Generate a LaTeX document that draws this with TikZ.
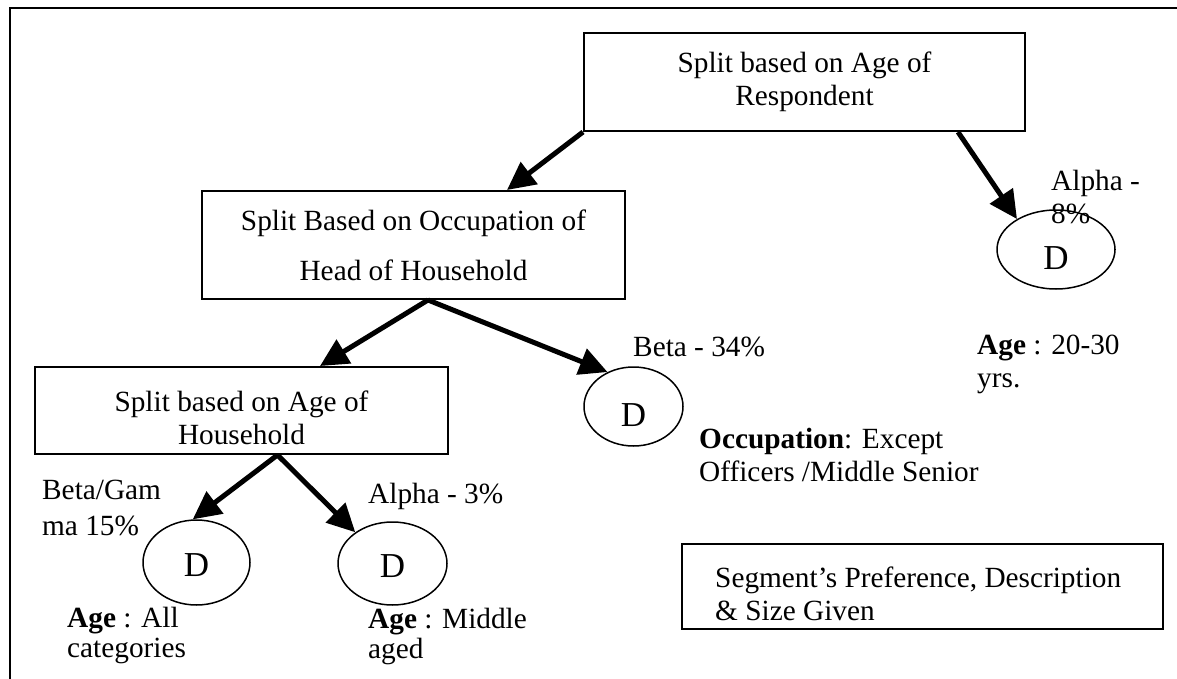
\documentclass[tikz,border=0pt]{standalone}
\usepackage{fontspec}
\setmainfont{Liberation Serif}
\usetikzlibrary{arrows.meta,shapes.geometric,calc}

\begin{document}
\begin{tikzpicture}[x=1pt,y=-1pt,
  every node/.style={font=\fontsize{29.3}{33}\selectfont},
  box/.style={draw,line width=2pt,inner sep=0pt,align=center},
  oval/.style={draw,ellipse,line width=1.5pt,inner sep=0pt,font=\fontsize{35}{35}\selectfont,text depth=0pt,text height=27pt},
  lowd/.style={text height=40pt},
  lbl/.style={inner sep=0pt,anchor=base west,align=left},
  arr/.style={line width=5pt,-{Triangle[length=28pt,width=27pt]}},
  frame/.style={line width=2pt}]
\useasboundingbox (0,0) rectangle (1177,679);
\draw[frame] (1178,8) -- (10,8) -- (10,680);

% boxes
\node[box,minimum width=441pt,minimum height=98pt] (top) at (804.5,82) {Split based on Age of\\Respondent};
\node[box,minimum width=423pt,minimum height=108pt] (occ) at (413.5,245) {Split Based on Occupation of\\[17pt]Head of Household};
\node[box,minimum width=413pt,minimum height=87pt] (hh) at (241.5,410.5) {};
\node[inner sep=0pt,align=center] (hhtext) at (241.5,418) {Split based on Age of\\Household};
\node[box,minimum width=481pt,minimum height=85pt] (seg) at (922.5,586.5) {};
\node[lbl] (segtext) at (715,620) {Segment’s Preference, Description\\\& Size Given};

% ellipses
\node[oval,lowd,minimum width=118pt,minimum height=79pt] (e4) at (1056,249.5) {D};
\node[oval,lowd,minimum width=99pt,minimum height=79pt] (e3) at (633.5,406.5) {D};
\node[oval,minimum width=107pt,minimum height=85pt] (e1) at (196.5,562.5) {D};
\node[oval,minimum width=109pt,minimum height=83pt] (e2) at (392.5,563.5) {D};

% labels
\node[lbl] (l4) at (1051,223) {Alpha -\\8\%};
\node[lbl] (l3) at (633,356) {Beta - 34\%};
\node[lbl] (d4) at (977,387) {\textbf{Age} : 20-30\\yrs.};
\node[lbl] (d3) at (699,481) {\textbf{Occupation}: Except\\Officers /Middle Senior};
\node[lbl] (l1) at (42,535) {Beta/Gam\\[3pt]ma 15\%};
\node[lbl] (l2) at (368,503) {Alpha - 3\%};
\node[lbl] (d1) at (67,657) {\textbf{Age} : All\\[-3pt]categories};
\node[lbl] (d2) at (368,658) {\textbf{Age} : Middle\\[-3pt]aged};

% arrows
\draw[arr] (top.south west) -- ([xshift=93.5pt]occ.north);
\draw[arr] ([xshift=153.5pt]top.south) -- (e4.142);
\draw[arr] ([xshift=14.5pt]occ.south) -- ([xshift=78.5pt]hh.north);
\draw[arr] ([xshift=14.5pt]occ.south) -- (e3.127);
\draw[arr] ([xshift=36pt]hh.south) -- (e1.95);
\draw[arr] ([xshift=36pt]hh.south) -- (e2.140);
\end{tikzpicture}
\end{document}
